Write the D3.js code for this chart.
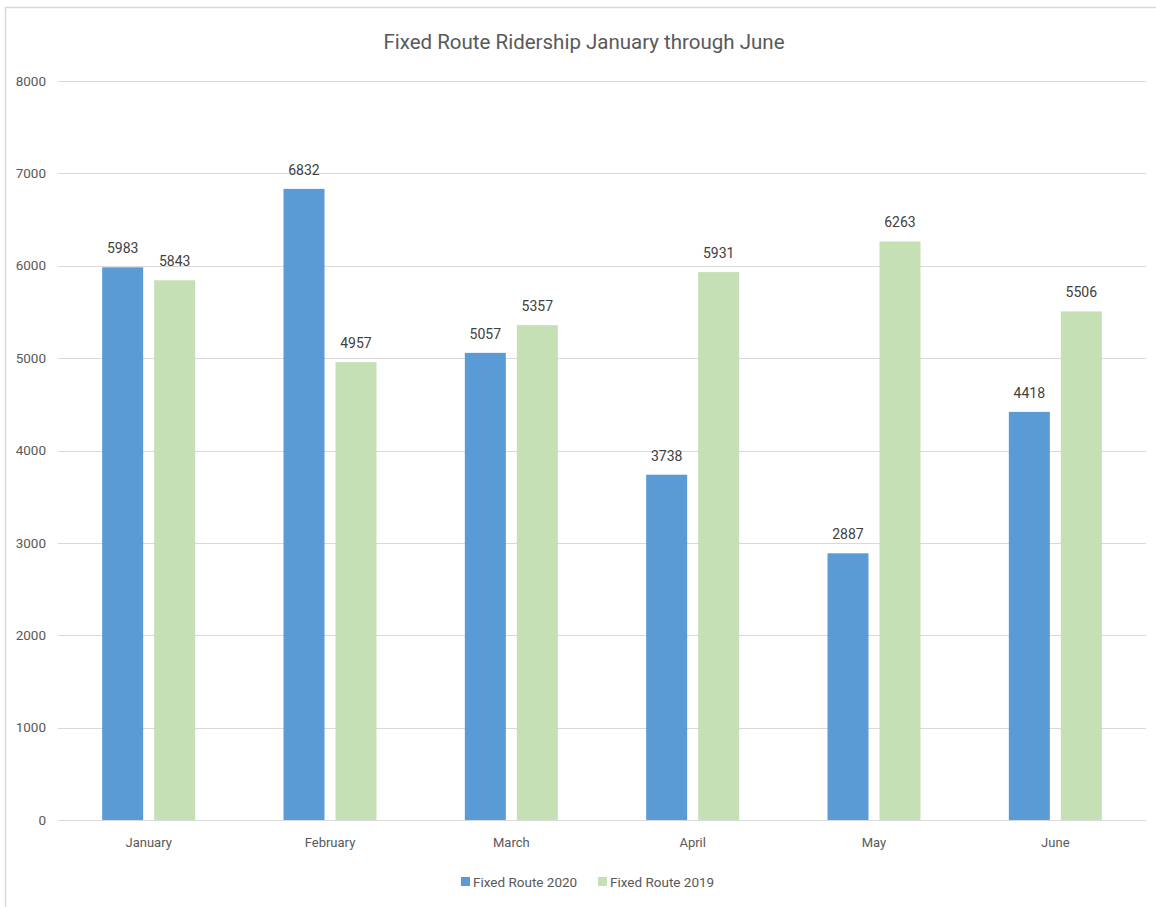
<!DOCTYPE html>
<html>
<head>
<meta charset="utf-8">
<script src="https://cdn.jsdelivr.net/npm/d3@7"></script>
<style>
  body { margin: 0; background: #fff; }
  text { font-family: Roboto, "Noto Sans", sans-serif; }
</style>
</head>
<body>
<svg id="chart" width="1156" height="907"></svg>
<script>
// data
const months = ['January', 'February', 'March', 'April', 'May', 'June'];
const route2020 = [5983, 6832, 5057, 3738, 2887, 4418];
const route2019 = [5843, 4957, 5357, 5931, 6263, 5506];
const seriesNames = ['Fixed Route 2020', 'Fixed Route 2019'];
const colors = ['#5B9BD5', '#C5E0B4'];
const yTicks = [0, 1000, 2000, 3000, 4000, 5000, 6000, 7000, 8000];

const svg = d3.select('#chart');

// outer frame (only left and top edges visible)
svg.append('rect')
  .attr('x', 5.5).attr('y', 7.5)
  .attr('width', 1200).attr('height', 1000)
  .attr('fill', 'none')
  .attr('stroke', '#d9d9d9')
  .attr('stroke-width', 1.5);

const plotL = 58, plotR = 1146, plotT = 81, plotB = 820;

const x = d3.scaleBand().domain(months).range([plotL, plotR]);
const y = d3.scaleLinear().domain([0, 8000]).range([plotB, plotT]);

// gridlines
svg.append('g')
  .selectAll('line')
  .data(yTicks)
  .join('line')
  .attr('x1', plotL).attr('x2', plotR)
  .attr('y1', d => Math.round(y(d)) + 0.5)
  .attr('y2', d => Math.round(y(d)) + 0.5)
  .attr('stroke', '#d9d9d9')
  .attr('stroke-width', 1);

// y axis labels
svg.append('g')
  .selectAll('text')
  .data(yTicks)
  .join('text')
  .attr('x', 46)
  .attr('y', d => y(d))
  .attr('dy', '0.35em')
  .attr('text-anchor', 'end')
  .style('font-size', '13.5px')
  .style('fill', '#595959')
  .text(d => d);

// x axis labels
svg.append('g')
  .selectAll('text')
  .data(months)
  .join('text')
  .attr('x', d => x(d) + x.bandwidth() / 2)
  .attr('y', 842)
  .attr('dy', '0.35em')
  .attr('text-anchor', 'middle')
  .style('font-size', '13px')
  .style('fill', '#595959')
  .text(d => d);

// bars
const barW = 41, gap = 11;
const series = [route2020, route2019];

series.forEach((vals, s) => {
  const offset = s == 0 ? -gap / 2 - barW : gap / 2;
  svg.append('g')
    .selectAll('rect')
    .data(vals)
    .join('rect')
    .attr('x', (d, i) => x(months[i]) + x.bandwidth() / 2 + offset)
    .attr('y', d => y(d))
    .attr('width', barW)
    .attr('height', d => plotB - y(d))
    .style('fill', colors[s]);

  svg.append('g')
    .selectAll('text')
    .data(vals)
    .join('text')
    .attr('x', (d, i) => x(months[i]) + x.bandwidth() / 2 + offset + barW / 2)
    .attr('y', d => y(d) - 19)
    .attr('dy', '0.35em')
    .attr('text-anchor', 'middle')
    .style('font-size', '14px')
    .style('fill', '#404040')
    .text(d => d);
});

// title
svg.append('text')
  .attr('x', 584)
  .attr('y', 42)
  .attr('dy', '0.35em')
  .attr('text-anchor', 'middle')
  .style('font-size', '20.5px')
  .style('fill', '#595959')
  .text('Fixed Route Ridership January through June');

// legend
const legendX = [461, 598];
seriesNames.forEach((name, i) => {
  svg.append('rect')
    .attr('x', legendX[i]).attr('y', 877)
    .attr('width', 9).attr('height', 9)
    .style('fill', colors[i]);
  svg.append('text')
    .attr('x', legendX[i] + 12)
    .attr('y', 882)
    .attr('dy', '0.35em')
    .style('font-size', '13.5px')
    .style('fill', '#595959')
    .text(name);
});
</script>
</body>
</html>
